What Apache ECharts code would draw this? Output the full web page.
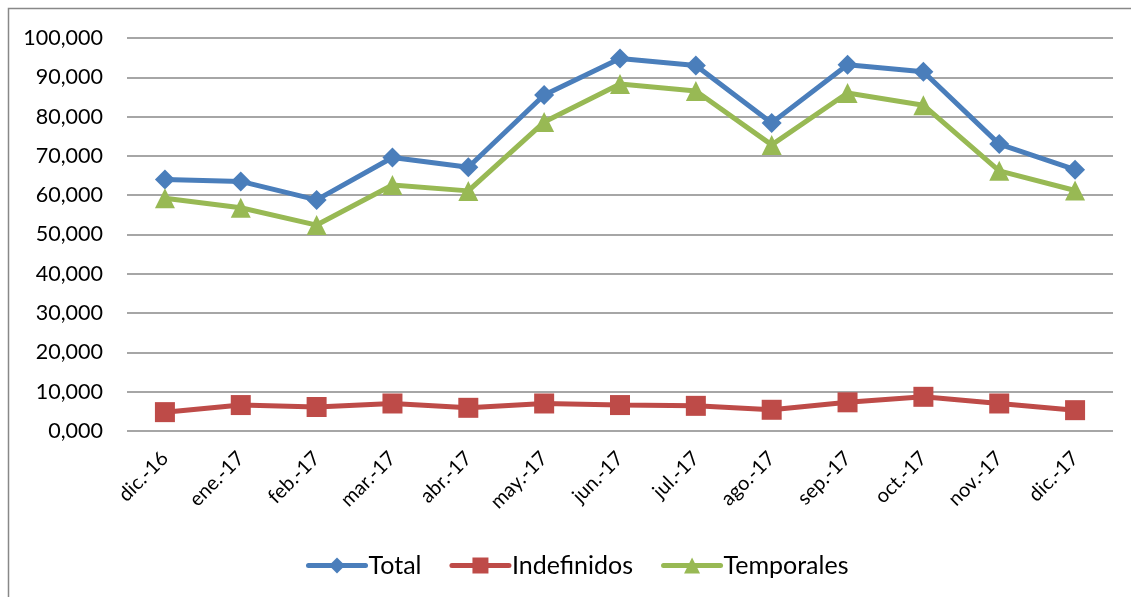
<!DOCTYPE html>
<html><head><meta charset="utf-8">
<script src="https://cdn.jsdelivr.net/npm/echarts@6/dist/echarts.min.js"></script>
<style>html,body{margin:0;padding:0;background:#fff}#c{width:1131px;height:597px}</style>
</head><body><div id="c"></div>
<script>
const categories = ['dic.-16','ene.-17','feb.-17','mar.-17','abr.-17','may.-17','jun.-17','jul.-17','ago.-17','sep.-17','oct.-17','nov.-17','dic.-17'];
const total = [64000,63500,58800,69600,67100,85500,94800,93000,78400,93200,91400,73000,66500];
const indefinidos = [4800,6600,6100,7000,5900,7000,6600,6400,5400,7300,8700,7000,5300];
const temporales = [59200,56800,52400,62600,61100,78600,88300,86500,72800,86000,82900,66200,61200];
const yTicks = {min:0, max:100000, interval:10000};

const font = 'Lato, "Open Sans", sans-serif';
const chart = echarts.init(document.getElementById('c'));
function fmt(v){ if(v===0) return '0,000'; return (v/1000)+',000'; }
chart.setOption({
  animation:false,
  graphic:[{type:'rect',shape:{x:8.5,y:8.5,width:1140,height:620},style:{fill:'none',stroke:'#888',lineWidth:1.5}}],
  grid:{left:127,right:18,top:38,bottom:166},
  legend:{top:548,left:301,itemWidth:57,itemHeight:20,itemGap:28,
    lineStyle:{width:5,cap:'round'},
    textStyle:{fontFamily:font,fontSize:25,color:'#000',padding:[0,0,0,-2]},
    data:['Total','Indefinidos','Temporales']},
  xAxis:{type:'category',data:categories,boundaryGap:true,
    axisLine:{show:false},axisTick:{show:false},
    axisLabel:{rotate:45,fontFamily:font,fontSize:20,color:'#000',margin:24}},
  yAxis:{type:'value',min:yTicks.min,max:yTicks.max,interval:yTicks.interval,
    axisLine:{show:false},axisTick:{show:false},
    splitLine:{lineStyle:{color:'#888',width:1.5}},
    axisLabel:{formatter:fmt,fontFamily:font,fontSize:21.5,color:'#000',margin:24}},
  series:[
    {name:'Total',type:'line',data:total,symbol:'diamond',symbolSize:20,
      lineStyle:{color:'#4a7ebb',width:5},itemStyle:{color:'#4a7ebb'}},
    {name:'Indefinidos',type:'line',data:indefinidos,symbol:'rect',symbolSize:20,
      lineStyle:{color:'#be4b48',width:5},itemStyle:{color:'#be4b48'}},
    {name:'Temporales',type:'line',data:temporales,symbol:'triangle',symbolSize:20,
      lineStyle:{color:'#98b954',width:5},itemStyle:{color:'#98b954'}}
  ]
});
</script></body></html>
